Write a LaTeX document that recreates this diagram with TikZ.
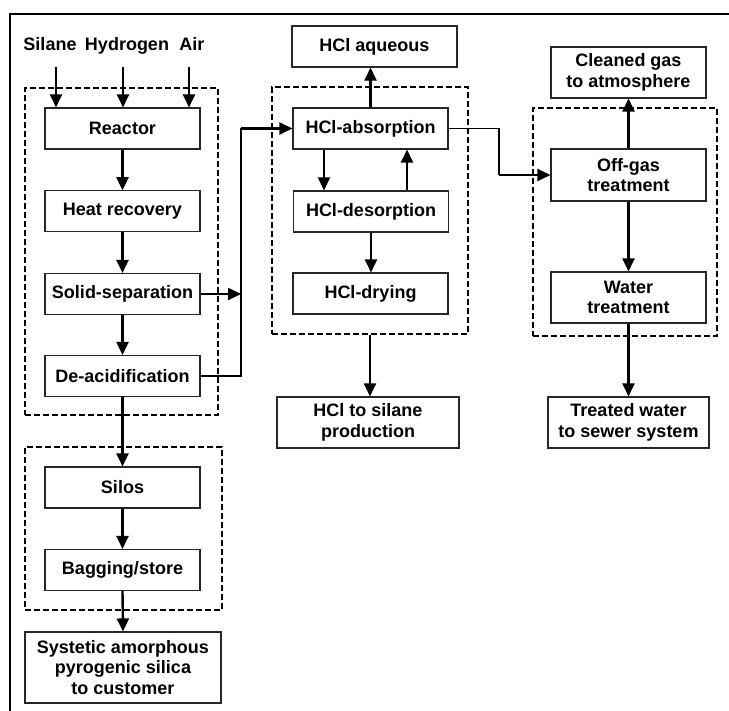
\documentclass[tikz,border=0pt]{standalone}
\usepackage{fontspec}
\setmainfont{Liberation Sans}
\usetikzlibrary{arrows.meta}
\begin{document}
\begin{tikzpicture}[x=1pt,y=-1pt,
  every node/.style={font=\fontsize{18}{20.5}\selectfont\bfseries, inner sep=0pt, align=center},
  box/.style={draw=black!85, line width=1.1pt, fill=white},
  dbox/.style={draw=black, line width=2.3pt, dash pattern=on 6pt off 3pt},
  arr/.style={line width=2.4pt, -{Triangle[length=13pt,width=12pt]}},
  thin line/.style={line width=1.2pt}
]
\useasboundingbox (0,0) rectangle (729,711);
\fill[white] (0,0) rectangle (729,711);
\draw[line width=2.8pt] (10,711) -- (10,14) -- (729,14);

% dashed groups
\node[dbox, minimum width=193pt, minimum height=327pt] (g1) at (121.5,251.5) {};
\node[dbox, minimum width=197pt, minimum height=163pt] (g2) at (123.5,528.5) {};
\node[dbox, minimum width=196pt, minimum height=247pt] (g3) at (370,210.5) {};
\node[dbox, minimum width=184pt, minimum height=228pt] (g4) at (625,222) {};

% inputs
\node[anchor=base] (silane) at (50,51) {Silane};
\node[anchor=base] (hydrogen) at (127,51) {Hydrogen};
\node[anchor=base] (air) at (192,51) {Air};
\coordinate (in1) at (56,67);
\coordinate (in2) at (123,67);
\coordinate (in3) at (189,67);

% left column
\node[box, minimum width=155pt, minimum height=41pt] (reactor) at (122.5,128.5) {Reactor};
\node[box, minimum width=155pt, minimum height=41pt] (heat) at (122.5,211.3) {Heat recovery};
\node[box, minimum width=155pt, minimum height=41pt] (solid) at (122.5,294) {Solid-separation};
\node[box, minimum width=155pt, minimum height=41pt] (deacid) at (122.5,376) {De-acidification};
\node[box, minimum width=155pt, minimum height=41pt] (silos) at (122.5,487.5) {Silos};
\node[box, minimum width=155pt, minimum height=41pt] (bagging) at (122.5,570) {Bagging/store};
\node[box, minimum width=196pt, minimum height=71pt] (product) at (123,667.5) {Systetic amorphous\\pyrogenic silica\\to customer};

% middle column
\node[box, minimum width=165pt, minimum height=41pt] (aqueous) at (374.5,46.5) {HCl aqueous};
\node[box, minimum width=155pt, minimum height=41pt] (abs) at (370.5,128.5) {HCl-absorption};
\node[box, minimum width=155pt, minimum height=41pt] (des) at (371,211.5) {HCl-desorption};
\node[box, minimum width=155pt, minimum height=41pt] (dry) at (370.5,293.5) {HCl-drying};
\node[box, minimum width=182pt, minimum height=51pt] (prod) at (368,422.5) {HCl to silane\\production};

% right column
\node[box, minimum width=155pt, minimum height=51pt] (cleaned) at (628.5,72.5) {Cleaned gas\\to atmosphere};
\node[box, minimum width=155pt, minimum height=52pt] (offgas) at (628.5,175) {Off-gas\\treatment};
\node[box, minimum width=155pt, minimum height=51pt] (water) at (628.5,297.5) {Water\\treatment};
\node[box, minimum width=161pt, minimum height=51pt] (treated) at (628.5,422.5) {Treated water\\to sewer system};

% routing points
\coordinate (vx) at (241,128.5);
\coordinate (bend) at (499,175);

% input arrows
\draw[arr] (in1) -- (in1 |- reactor.north);
\draw[arr] (in2) -- (in2 |- reactor.north);
\draw[arr] (in3) -- (in3 |- reactor.north);

% left chain
\draw[arr] (reactor.south) -- (heat.north);
\draw[arr] (heat.south) -- (solid.north);
\draw[arr] (solid.south) -- (deacid.north);
\draw[arr] (deacid.south) -- (silos.north);
\draw[arr] (silos.south) -- (bagging.north);
\draw[arr] (bagging.south) -- (product.north);

% to absorption
\draw[arr] (solid.east) -- (solid.east -| vx);
\draw[thin line] (deacid.east) -- (deacid.east -| vx) -- (vx);
\draw[arr] (vx) -- (abs.west);

% HCl loop
\draw[arr] (abs.north) -- (aqueous.south -| abs.north);
\draw[arr] ([xshift=-46.5pt]abs.south) -- ([xshift=-46.5pt]abs.south |- des.north);
\draw[arr] ([xshift=36pt]des.north) -- ([xshift=36pt]des.north |- abs.south);
\draw[arr] (des.south) -- (des.south |- dry.north);
\draw[arr] (g3.south) -- (g3.south |- prod.north);

% off-gas
\draw[thin line] (abs.east) -- (abs.east -| bend) -- (bend);
\draw[arr] (bend) -- (offgas.west);
\draw[arr] (offgas.north) -- (cleaned.south);
\draw[arr] (offgas.south) -- (water.north);
\draw[arr] (water.south) -- (treated.north);
\end{tikzpicture}
\end{document}
